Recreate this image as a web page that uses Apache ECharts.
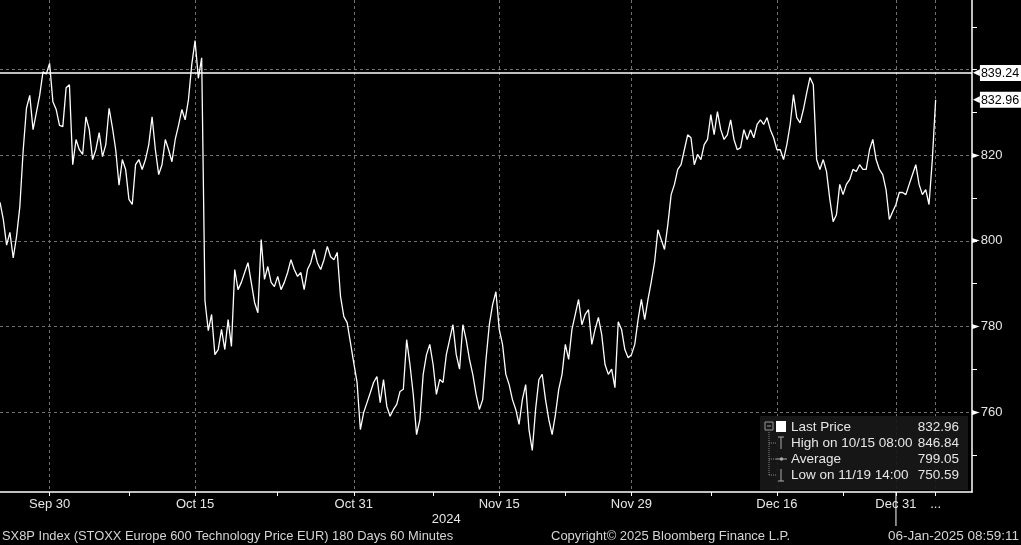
<!DOCTYPE html>
<html><head><meta charset="utf-8">
<script src="https://cdn.jsdelivr.net/npm/echarts@6/dist/echarts.min.js"></script>
<style>html,body{margin:0;padding:0;background:#000}#c{width:1021px;height:545px}</style>
</head><body><div id="c"></div>
<script>
// hourly-ish price samples (about 4 per trading day)
const prices = [
  809, 805, 799, 802, 796, 801, 808,
  821,
  831, 834, 826, 830, 834, 839.5, 839, 841.5,
  832.5, 830.7, 827, 826.7, 835.8, 836.5, 817.8, 823.7,
  821.3, 820.2, 829, 826, 819, 821.3, 825.3, 819.7,
  822.5, 831, 826.5, 821.3, 813, 819, 816.7, 809.7,
  808.5, 817.8, 819, 816.7, 819, 822.5, 829, 821.3,
  815.5, 817.8, 823.7, 821.3, 818.5, 823.7, 827, 830.7,
  828.3, 833, 841.2, 846.8, 838, 842.8, 786, 779,
  782.8, 773.4, 774.6, 779.3, 774.6, 781.6, 775.3, 793.3,
  788.6, 790.3, 792.6, 794.9, 790.3, 785.6, 783.2, 800.3,
  791, 794, 790.3, 789.3, 791.7, 788.6, 790.3, 792.6,
  795.6, 793.3, 791.7, 792.6, 788.6, 793.3, 794.9, 798,
  794.9, 793.3, 795.6, 798.7, 796.3, 795.6, 797.3, 787,
  782.3, 780.9, 776.2, 771.5, 766.9, 755.9, 759.9, 762.2,
  764.5, 766.9, 768.3, 762.2, 767.6, 761.3, 759, 760.6,
  761.8, 764.8, 765.3, 776.9, 771.1, 764.1, 754.7, 758.2,
  768.8, 773.4, 775.8, 771.1, 764.1, 767.6, 766.9, 773.4,
  776.9, 780.4, 773.4, 770, 780.4, 776.9, 772.3, 768.8,
  764.1, 760.6, 762.9, 772.3, 780.4, 785.1, 788.1, 779.3,
  775.8, 768.8, 766.4, 762.9, 760.6, 757.1, 762.9, 766.4,
  755.9, 751, 760.6, 767.6, 768.8, 762.9, 758.2, 754.7,
  759.4, 765.3, 768.8, 775.8, 772.3, 779.3, 782.8, 786.3,
  780.4, 782.8, 783.9, 775.8, 779.3, 782.1, 778.1, 771.1,
  768.8, 770, 765.7, 781.1, 779.3, 774.6, 772.7, 773.4,
  775.8, 781.6, 786.3, 781.6, 786.3, 790.5, 795.1, 802.6,
  800.3, 798, 803.8, 810.8, 813.2, 816.7, 817.8, 821.3,
  824.8, 824.1, 817.8, 820.2, 819, 822.5, 823.7, 829.5,
  824.8, 830.2, 826, 823.7, 824.8, 828.3, 823.7, 821.3,
  821.8, 826, 823.7, 826, 824.1, 827.2, 828.3, 827.2,
  828.8, 826, 824.1, 821.3, 821.3, 819, 822.5, 827.2,
  834.2, 828.8, 827.6, 830.7, 834.6, 838.2, 836.5, 819,
  816.7, 819, 816.2, 809.7, 804.5, 806.1, 813.2, 810.8,
  813.2, 814.3, 816.7, 816.2, 817.8, 816.7, 816.7, 821.3,
  823.7, 819, 816.7, 815.5, 812, 805, 806.8, 808.5,
  811.3, 811.3, 810.8, 813.2, 815.5, 817.8, 813.2, 810.8,
  812, 808.5, 819, 832.96
];
const slotCount = 295; // time slots across the axis (quarter trading days)
const tickLabels = [[15,'Sep 30'],[59,'Oct 15'],[107,'Oct 31'],[151,'Nov 15'],[191,'Nov 29'],[235,'Dec 16'],[271,'Dec 31'],[283,'...']];
const minorTickSlots = [39,84,131,171,215,255];
const yearLabel = '2024';
const yearLabelSlot = 135;
const yearDividerSlot = 271;
const referenceLevel = 839.24;
const lastPrice = 832.96;
const yMin = 741.3, yMax = 856.3;
const yLabelValues = [760, 780, 800, 820];
const yGridValues = [760, 780, 800, 820, 840];
const yTickValues = [750, 760, 770, 780, 790, 800, 810, 820, 830, 840, 850];
const legendRows = [['Last Price','832.96'],['High on 10/15 08:00','846.84'],['Average','799.05'],['Low on 11/19 14:00','750.59']];
const footerLeft = 'SX8P Index (STOXX Europe 600 Technology Price EUR) 180 Days 60 Minutes';
const footerMid = 'Copyright\u00A9 2025 Bloomberg Finance L.P.';
const footerRight = '06-Jan-2025 08:59:11';

const slots = Array.from({length: slotCount}, (_, i) => String(i));
const labelMap = new Map(tickLabels);
const tickSet = new Set([...tickLabels.map(t => t[0]), ...minorTickSlots]);
const FONT = '"Liberation Sans", Arial, sans-serif';
const TXT = '#e6e6e6';

const chart = echarts.init(document.getElementById('c'), null, {renderer: 'canvas'});
const priceTag = (txt, dist) => ({
  show: true, position: 'end', distance: dist, formatter: '{a|\u25C0}{b|' + txt + '}',
  rich: {a: {color: '#fff', fontSize: 9, fontFamily: 'DejaVu Sans'},
         b: {backgroundColor: '#fff', color: '#000', fontSize: 12.5, fontFamily: FONT, padding: [2, 2, 1, 1]}}
});
const option = {
  backgroundColor: '#000',
  animation: false,
  textStyle: {fontFamily: FONT},
  grid: {left: 0, right: 49, top: 0, bottom: 53, containLabel: false},
  xAxis: {
    type: 'category', data: slots, boundaryGap: false,
    axisLine: {show: true, lineStyle: {color: '#fff', width: 1.5}},
    axisTick: {show: true, interval: (i) => tickSet.has(i), length: 4, lineStyle: {color: '#fff'}},
    axisLabel: {interval: (i) => labelMap.has(i), formatter: (v) => labelMap.get(Number(v)) || '',
      color: TXT, fontSize: 13, margin: 6, fontFamily: FONT},
    splitLine: {show: true, interval: (i) => labelMap.has(i), lineStyle: {color: '#707070', width: 1, type: [3, 3]}}
  },
  yAxis: [{
    type: 'value', position: 'right', min: yMin, max: yMax, scale: true,
    axisLine: {show: true, lineStyle: {color: '#fff', width: 1.5}},
    axisTick: {show: true, customValues: yTickValues, length: 5, lineStyle: {color: '#fff'}},
    axisLabel: {show: true, customValues: yLabelValues, margin: 0,
      formatter: (v) => '{t|\u25BA}{v|' + v + '}',
      rich: {t: {color: '#fff', fontSize: 10, fontFamily: 'DejaVu Sans'}, v: {color: TXT, fontSize: 13, fontFamily: FONT, padding: [0,0,0,1]}}},
    splitLine: {show: false}
  }, {
    type: 'value', position: 'right', min: yMin, max: yMax, scale: true,
    axisLine: {show: false}, axisLabel: {show: false},
    axisTick: {show: false, customValues: yGridValues},
    splitLine: {show: true, lineStyle: {color: '#707070', width: 1, type: [3, 3]}}
  }],
  series: [{
    type: 'line', data: prices, yAxisIndex: 0, showSymbol: false, symbol: 'none',
    lineStyle: {color: '#fff', width: 1.3}, z: 3,
    markLine: {
      symbol: 'none', silent: true, animation: false,
      data: [
        {yAxis: referenceLevel, lineStyle: {color: '#fff', width: 1.5, type: 'solid'}, label: priceTag('839.24', 1)},
        {yAxis: lastPrice, lineStyle: {color: 'rgba(0,0,0,0)', width: 1, type: 'solid'}, label: priceTag('832.96', 1)}
      ]
    }
  }]
};
chart.setOption(option);

// decorations positioned through the axis scale
const xYear = chart.convertToPixel({xAxisIndex: 0}, yearLabelSlot);
const xDiv = chart.convertToPixel({xAxisIndex: 0}, yearDividerSlot);
const axisY = 492;

const legendX = 760, legendY = 416, rowH = 16;
const LF = '13.5px ' + FONT;
const legendEls = [
  {type: 'rect', shape: {x: legendX, y: legendY, width: 208, height: 74}, style: {fill: 'rgba(24,24,24,0.92)'}, z: 10},
  {type: 'line', shape: {x1: 769, y1: legendY + 16, x2: 769, y2: legendY + 59}, style: {stroke: '#888', lineDash: [1, 1]}, z: 11},
  {type: 'line', shape: {x1: 769, y1: legendY + 27, x2: 776, y2: legendY + 27}, style: {stroke: '#888', lineDash: [1, 1]}, z: 11},
  {type: 'line', shape: {x1: 769, y1: legendY + 43, x2: 776, y2: legendY + 43}, style: {stroke: '#888', lineDash: [1, 1]}, z: 11},
  {type: 'line', shape: {x1: 769, y1: legendY + 59, x2: 776, y2: legendY + 59}, style: {stroke: '#888', lineDash: [1, 1]}, z: 11},
  {type: 'rect', shape: {x: 765, y: legendY + 6, width: 8, height: 8}, style: {fill: 'none', stroke: '#999'}, z: 11},
  {type: 'line', shape: {x1: 767, y1: legendY + 10, x2: 771, y2: legendY + 10}, style: {stroke: '#999'}, z: 11},
  {type: 'rect', shape: {x: 776, y: legendY + 5, width: 10, height: 11}, style: {fill: '#fff'}, z: 11},
  {type: 'line', shape: {x1: 781, y1: legendY + 21, x2: 781, y2: legendY + 33}, style: {stroke: '#aaa'}, z: 11},
  {type: 'line', shape: {x1: 778, y1: legendY + 21, x2: 784, y2: legendY + 21}, style: {stroke: '#aaa'}, z: 11},
  {type: 'line', shape: {x1: 776, y1: legendY + 43, x2: 787, y2: legendY + 43}, style: {stroke: '#aaa'}, z: 11},
  {type: 'circle', shape: {cx: 781.5, cy: legendY + 43, r: 1.8}, style: {fill: '#aaa'}, z: 11},
  {type: 'line', shape: {x1: 781, y1: legendY + 53, x2: 781, y2: legendY + 65}, style: {stroke: '#aaa'}, z: 11},
  {type: 'line', shape: {x1: 778, y1: legendY + 65, x2: 784, y2: legendY + 65}, style: {stroke: '#aaa'}, z: 11}
];
legendRows.forEach((r, k) => {
  const cy = legendY + 11 + k * rowH;
  legendEls.push({type: 'text', x: 791, y: cy, style: {text: r[0], fill: TXT, font: LF, textVerticalAlign: 'middle', textAlign: 'left'}, z: 11});
  legendEls.push({type: 'text', x: 959, y: cy, style: {text: r[1], fill: TXT, font: LF, textVerticalAlign: 'middle', textAlign: 'right'}, z: 11});
});

chart.setOption({
  graphic: {elements: [
    {type: 'line', shape: {x1: xDiv, y1: axisY, x2: xDiv, y2: 526}, style: {stroke: '#fff', lineWidth: 1}},
    {type: 'text', x: xYear, y: 519, style: {text: yearLabel, fill: TXT, font: '13px ' + FONT, textAlign: 'center', textVerticalAlign: 'middle'}},
    {type: 'text', x: 2, y: 536, style: {text: footerLeft, fill: '#d4d4d4', font: '12.9px ' + FONT, textAlign: 'left', textVerticalAlign: 'middle'}},
    {type: 'text', x: 551, y: 536, style: {text: footerMid, fill: '#d4d4d4', font: '13px ' + FONT, textAlign: 'left', textVerticalAlign: 'middle'}},
    {type: 'text', x: 1019, y: 536, style: {text: footerRight, fill: '#d4d4d4', font: '13.5px ' + FONT, textAlign: 'right', textVerticalAlign: 'middle'}},
    ...legendEls
  ]}
});
</script>
</body></html>
